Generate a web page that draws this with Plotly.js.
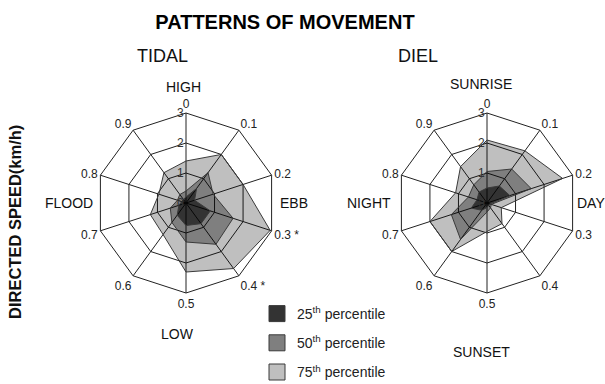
<!DOCTYPE html>
<html><head><meta charset="utf-8">
<script src="https://cdn.plot.ly/plotly-3.0.1.min.js"></script>
<style>body{margin:0;background:#fff}#chart{width:605px;height:384px}</style>
</head><body><div id="chart"></div>
<script>
// ---- data ----
const spokes = ['0','0.1','0.2','0.3','0.4','0.5','0.6','0.7','0.8','0.9'];
const tidalTickText = ['0','0.1','0.2','0.3 *','0.4 *','0.5','0.6','0.7','0.8','0.9'];
const dielTickText = ['0','0.1','0.2','0.3','0.4','0.5','0.6','0.7','0.8','0.9'];
const tidalP25 = [0.2, 0.6, 0.3, 0.85, 0.85, 0.75, 0.5, 0.25, 0.15, 0.15];
const tidalP50 = [0.4, 1.25, 0.95, 1.65, 1.7, 1.3, 0.8, 0.55, 0.3, 0.35];
const tidalP75 = [1.4, 2.0, 2.0, 2.95, 2.7, 2.3, 1.3, 1.25, 0.95, 1.25];
const dielP25 = [0.5, 0.7, 0.8, 0.1, 0.1, 0.15, 0.3, 0.55, 0.35, 0.45];
const dielP50 = [1.05, 1.4, 1.55, 0.15, 0.2, 0.3, 1.5, 1.25, 0.65, 0.75];
const dielP75 = [2.1, 2.15, 2.65, 0.5, 0.85, 0.95, 2.0, 2.0, 1.1, 1.5];
const seriesNames = ['25<sup>th</sup> percentile', '50<sup>th</sup> percentile', '75<sup>th</sup> percentile'];
const panelTitles = ['TIDAL', 'DIEL'];
const tidalPhases = ['HIGH', 'EBB', 'LOW', 'FLOOD'];
const dielPhases = ['SUNRISE', 'DAY', 'SUNSET', 'NIGHT'];
const radialTicks = [0, 1, 2, 3];

// ---- style ----
const W = 605, H = 384;
const FONT = 'Liberation Sans, Arial, sans-serif';
const fillColors = ['rgba(0,0,0,0.6)', 'rgba(0,0,0,0.335)', 'rgba(0,0,0,0.25)'];
const legendColors = ['#333333', '#7f7f7f', '#bfbfbf'];
const edge = '#3a3a3a';
const px = x => x / W, py = y => 1 - y / H;

function closed(a) { return a.concat([a[0]]); }
function polyTrace(vals, idx, sub) {
  return {
    type: 'scatterpolar', subplot: sub, mode: 'lines', fill: 'toself',
    r: closed(vals), theta: closed(spokes),
    fillcolor: fillColors[idx], line: {color: edge, width: 1},
    showlegend: false, hoverinfo: 'skip'
  };
}
const traces = [
  polyTrace(tidalP75, 2, 'polar'), polyTrace(tidalP50, 1, 'polar'), polyTrace(tidalP25, 0, 'polar'),
  polyTrace(dielP75, 2, 'polar2'), polyTrace(dielP50, 1, 'polar2'), polyTrace(dielP25, 0, 'polar2')
];
// legend-only entries (no drawn point)
seriesNames.forEach((n, i) => traces.push({
  type: 'scatterpolar', subplot: 'polar', mode: 'markers', r: [null], theta: [null],
  name: n, legendgroup: 'g' + i, showlegend: true, hoverinfo: 'skip',
  marker: {symbol: 'square', size: 16, color: legendColors[i], line: {color: edge, width: 1}}
}));

function polarCfg(cx, cy, R, tickText) {
  return {
    domain: {x: [px(cx - R), px(cx + R)], y: [py(cy + R), py(cy - R)]},
    gridshape: 'linear', bgcolor: 'rgba(0,0,0,0)',
    radialaxis: {
      range: [0, 3], tickvals: radialTicks, angle: 90, tickangle: 90, showline: false,
      gridcolor: '#222', gridwidth: 1, ticks: '', tickfont: {size: 12, color: '#333', family: FONT},
      side: 'counterclockwise', layer: 'above traces'
    },
    angularaxis: {
      type: 'category', categoryarray: spokes, tickvals: spokes, ticktext: tickText,
      rotation: 90, direction: 'clockwise',
      showline: true, linecolor: '#222', linewidth: 1, gridcolor: '#222', gridwidth: 1,
      ticks: '', tickfont: {size: 12, color: '#222', family: FONT}
    }
  };
}

const annotations = [];
function ann(text, x, y, size, extra) {
  annotations.push(Object.assign({text, x: px(x), y: py(y), xref: 'paper', yref: 'paper',
    showarrow: false, xanchor: 'center', yanchor: 'middle',
    font: {size, color: '#111', family: FONT}}, extra || {}));
}
ann(panelTitles[0], 162.5, 56, 18);
ann(panelTitles[1], 417.5, 56, 18);
const tidalPos = [[183.5, 87], [294, 203], [177, 334], [69, 203]];
const dielPos = [[480.5, 84], [591, 203], [481, 352], [369, 203]];
tidalPhases.forEach((t, i) => ann(t, tidalPos[i][0], tidalPos[i][1], 14));
dielPhases.forEach((t, i) => ann(t, dielPos[i][0], dielPos[i][1], 14));
ann('<b>DIRECTED SPEED(km/h)</b>', 15, 222, 16.5, {textangle: -90});

const layout = {
  width: W, height: H, margin: {l: 0, r: 0, t: 0, b: 0, autoexpand: false},
  paper_bgcolor: '#fff', font: {family: FONT, color: '#111'},
  title: {text: '<b>PATTERNS OF MOVEMENT</b>', x: px(285), xanchor: 'center', y: py(22), yanchor: 'middle',
    font: {size: 20, color: '#000', family: FONT}},
  polar: polarCfg(186, 203, 90, tidalTickText),
  polar2: polarCfg(487, 203, 90, dielTickText),
  showlegend: true,
  legend: {x: px(257), y: py(298), xanchor: 'left', yanchor: 'top', tracegroupgap: 8,
    bgcolor: 'rgba(0,0,0,0)', font: {size: 14, color: '#222', family: FONT}, traceorder: 'grouped'},
  annotations
};
Plotly.newPlot('chart', traces, layout, {staticPlot: true});
</script></body></html>
